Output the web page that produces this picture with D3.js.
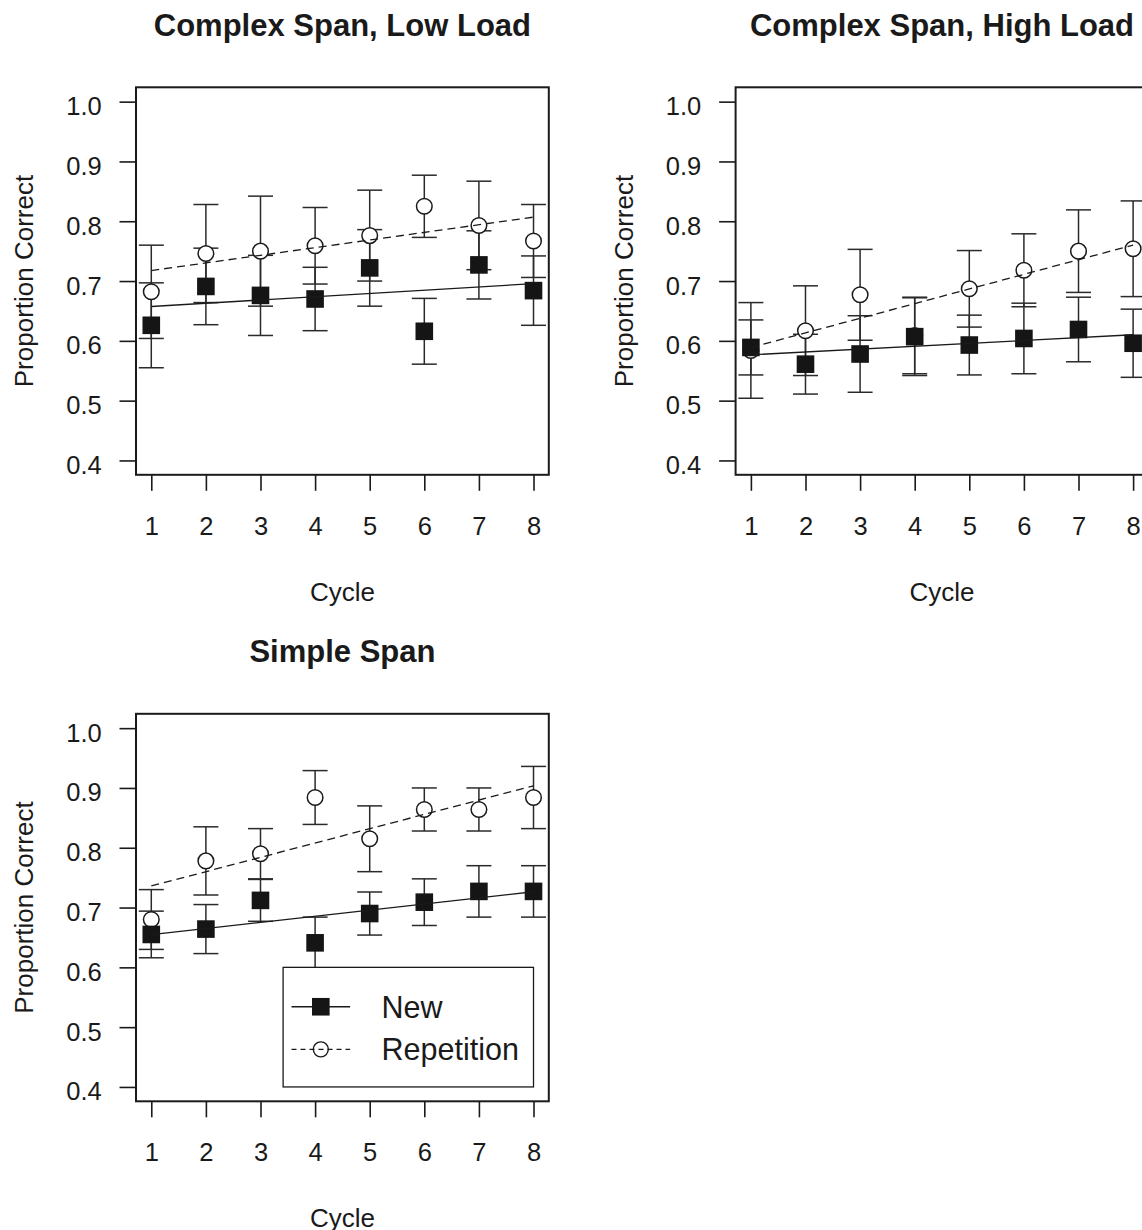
<!DOCTYPE html>
<html>
<head>
<meta charset="utf-8">
<script src="https://cdn.jsdelivr.net/npm/d3@7"></script>
<style>
  body { margin: 0; background: #fff; }
  svg { display: block; font-family: "Liberation Sans", Arial, Helvetica, sans-serif; }
</style>
</head>
<body>
<div id="chart"></div>
<script>
// cycles on the x axis
const cycles = [1, 2, 3, 4, 5, 6, 7, 8];
const yTicks = [0.4, 0.5, 0.6, 0.7, 0.8, 0.9, 1.0];
const titles = ["Complex Span, Low Load", "Complex Span, High Load", "Simple Span"];
const legendLabels = ["New", "Repetition"];

// complex span, low load
const lowNew = [0.626, 0.691, 0.676, 0.670, 0.722, 0.616, 0.727, 0.684];
const lowNewErr = [0.071, 0.064, 0.067, 0.053, 0.064, 0.055, 0.057, 0.058];
const lowRep = [0.682, 0.746, 0.750, 0.759, 0.776, 0.825, 0.793, 0.767];
const lowRepErr = [0.078, 0.082, 0.092, 0.064, 0.076, 0.052, 0.074, 0.061];

// complex span, high load
const highNew = [0.589, 0.561, 0.578, 0.607, 0.593, 0.604, 0.619, 0.596];
const highNewErr = [0.046, 0.050, 0.064, 0.065, 0.050, 0.059, 0.054, 0.057];
const highRep = [0.584, 0.617, 0.677, 0.609, 0.687, 0.718, 0.750, 0.754];
const highRepErr = [0.080, 0.075, 0.076, 0.064, 0.064, 0.061, 0.069, 0.080];

// simple span
const simpleNew = [0.655, 0.664, 0.712, 0.641, 0.690, 0.709, 0.727, 0.727];
const simpleNewErr = [0.039, 0.041, 0.035, 0.043, 0.036, 0.039, 0.043, 0.043];
const simpleRep = [0.680, 0.778, 0.790, 0.884, 0.815, 0.864, 0.864, 0.884];
const simpleRepErr = [0.050, 0.057, 0.042, 0.045, 0.055, 0.036, 0.036, 0.052];

const panels = [
  {title: titles[0], col: 0, row: 0, nw: lowNew, nwErr: lowNewErr, rep: lowRep, repErr: lowRepErr, legend: false},
  {title: titles[1], col: 1, row: 0, nw: highNew, nwErr: highNewErr, rep: highRep, repErr: highRepErr, legend: false},
  {title: titles[2], col: 0, row: 1, nw: simpleNew, nwErr: simpleNewErr, rep: simpleRep, repErr: simpleRepErr, legend: true}
];

const W = 1142, H = 1230;
const plotW = 412.8, plotH = 387.5;
const ink = "#1a1a1a";

const svg = d3.select("#chart").append("svg")
  .attr("width", W).attr("height", H);

// x range padded 4% like R does
const x = d3.scaleLinear().domain([0.72, 8.28]).range([0, plotW]);
const y = d3.scaleLinear().domain([0.376, 1.024]).range([plotH, 0]);

// least squares line through the points
function fit(ys) {
  const mx = d3.mean(cycles), my = d3.mean(ys);
  let num = 0, den = 0;
  cycles.forEach((c, i) => { num += (c - mx) * (ys[i] - my); den += (c - mx) * (c - mx); });
  const b = num / den;
  return [1, 8].map(c => [c, my + b * (c - mx)]);
}

panels.forEach(p => {
  const g = svg.append("g")
    .attr("transform", `translate(${136 + p.col * 599.6}, ${87.3 + p.row * 626.5})`);

  g.append("text")
    .attr("x", plotW / 2).attr("y", -51.5)
    .attr("text-anchor", "middle")
    .attr("font-size", 31).attr("font-weight", "bold").attr("fill", ink)
    .text(p.title);

  // axes
  const yAxis = g.append("g")
    .call(d3.axisLeft(y).tickValues(yTicks).tickFormat(d3.format(".1f"))
      .tickSize(16.5).tickPadding(17.8).tickSizeOuter(0));
  yAxis.select(".domain").remove();
  yAxis.selectAll("line").attr("stroke", ink).attr("stroke-width", 1.6);
  yAxis.selectAll("text").attr("font-size", 25.5).attr("fill", ink)
    .attr("font-family", null).attr("dy", "0.51em");

  const xAxis = g.append("g")
    .attr("transform", `translate(0, ${plotH})`)
    .call(d3.axisBottom(x).tickValues(cycles).tickFormat(d3.format("d"))
      .tickSize(16).tickPadding(25.9).tickSizeOuter(0));
  xAxis.select(".domain").remove();
  xAxis.selectAll("line").attr("stroke", ink).attr("stroke-width", 1.6);
  xAxis.selectAll("text").attr("font-size", 25.5).attr("fill", ink)
    .attr("font-family", null);

  g.append("rect")
    .attr("width", plotW).attr("height", plotH)
    .attr("fill", "none").attr("stroke", ink).attr("stroke-width", 2);

  g.append("text")
    .attr("x", plotW / 2).attr("y", plotH + 126)
    .attr("text-anchor", "middle").attr("font-size", 26).attr("fill", ink)
    .text("Cycle");

  g.append("text")
    .attr("transform", `translate(-103, ${plotH / 2}) rotate(-90)`)
    .attr("text-anchor", "middle").attr("font-size", 26).attr("fill", ink)
    .text("Proportion Correct");

  // error bars
  const bars = [
    {vals: p.rep, err: p.repErr},
    {vals: p.nw, err: p.nwErr}
  ];
  bars.forEach(b => {
    const eb = g.append("g").attr("stroke", "#2a2a2a").attr("stroke-width", 1.5);
    cycles.forEach((c, i) => {
      const lo = b.vals[i] - b.err[i], hi = b.vals[i] + b.err[i];
      eb.append("line").attr("x1", x(c)).attr("x2", x(c)).attr("y1", y(lo)).attr("y2", y(hi));
      eb.append("line").attr("x1", x(c) - 12.5).attr("x2", x(c) + 12.5).attr("y1", y(lo)).attr("y2", y(lo));
      eb.append("line").attr("x1", x(c) - 12.5).attr("x2", x(c) + 12.5).attr("y1", y(hi)).attr("y2", y(hi));
    });
  });

  g.selectAll(".rep").data(p.rep).join("circle")
    .attr("cx", (d, i) => x(cycles[i])).attr("cy", d => y(d)).attr("r", 7.8)
    .attr("fill", "#fff").attr("stroke", ink).attr("stroke-width", 1.5);

  g.selectAll(".nw").data(p.nw).join("rect")
    .attr("x", (d, i) => x(cycles[i]) - 8.8).attr("y", d => y(d) - 8.8)
    .attr("width", 17.6).attr("height", 17.6).attr("fill", "#151515");

  const line = d3.line().x(d => x(d[0])).y(d => y(d[1]));
  g.append("path").attr("d", line(fit(p.nw)))
    .attr("fill", "none").attr("stroke", ink).attr("stroke-width", 1.3);
  g.append("path").attr("d", line(fit(p.rep)))
    .attr("fill", "none").attr("stroke", ink).attr("stroke-width", 1.3)
    .attr("stroke-dasharray", "8,5");

  if (p.legend) {
    const lw = 250.4;
    const lx = x(8) - lw, ly = y(0.6);
    const lg = g.append("g").attr("transform", `translate(${lx}, ${ly})`);
    lg.append("rect").attr("width", lw).attr("height", y(0.4) - y(0.6))
      .attr("fill", "#fff").attr("stroke", ink).attr("stroke-width", 1.3);
    const rows = [39.4, 82];
    // New
    lg.append("line").attr("x1", 8.4).attr("x2", 67).attr("y1", rows[0]).attr("y2", rows[0])
      .attr("stroke", ink).attr("stroke-width", 1.3);
    lg.append("rect").attr("x", 37.7 - 8.8).attr("y", rows[0] - 8.8)
      .attr("width", 17.6).attr("height", 17.6).attr("fill", "#151515");
    // Repetition
    lg.append("line").attr("x1", 8.4).attr("x2", 67).attr("y1", rows[1]).attr("y2", rows[1])
      .attr("stroke", ink).attr("stroke-width", 1.2).attr("stroke-dasharray", "5,4");
    lg.append("circle").attr("cx", 37.7).attr("cy", rows[1]).attr("r", 7.5)
      .attr("fill", "none").attr("stroke", ink).attr("stroke-width", 1.4);
    lg.selectAll(".lab").data(legendLabels).join("text")
      .attr("x", 98.4).attr("y", (d, i) => rows[i]).attr("dy", "0.36em")
      .attr("font-size", 30.5).attr("fill", ink)
      .text(d => d);
  }
});
</script>
</body>
</html>
